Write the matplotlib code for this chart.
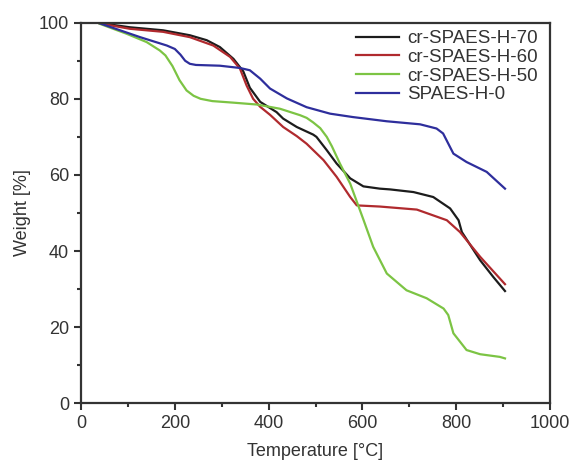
import matplotlib
matplotlib.use("Agg")
import matplotlib.pyplot as plt
from matplotlib.ticker import MultipleLocator

plt.rcParams['font.family'] = ['Liberation Sans', 'DejaVu Sans']

# cr-SPAES-H-70 (black)
t70 = [40, 104, 175, 232, 268, 296, 325, 346, 360, 382, 417, 431, 460, 495, 502, 524, 545, 574, 602, 637, 659, 709, 751, 787, 805, 812, 851, 879, 904]
w70 = [99.9, 98.8, 98.0, 96.7, 95.4, 93.6, 90.5, 87.2, 82.9, 79.2, 76.5, 74.8, 72.6, 70.6, 70.0, 66.5, 63.0, 59.1, 57.0, 56.4, 56.2, 55.5, 54.2, 51.2, 48.1, 45.0, 37.6, 33.2, 29.5]

# cr-SPAES-H-60 (red)
t60 = [40, 104, 175, 232, 282, 318, 339, 353, 367, 382, 403, 431, 460, 481, 517, 545, 574, 588, 637, 716, 780, 808, 851, 904]
w60 = [99.8, 98.4, 97.6, 96.2, 94.0, 91.0, 87.9, 83.5, 80.0, 77.9, 75.8, 72.6, 70.2, 68.2, 63.9, 59.5, 54.2, 52.0, 51.7, 50.9, 48.1, 45.0, 38.5, 31.3]

# cr-SPAES-H-50 (green)
t50 = [40, 97, 140, 168, 180, 195, 210, 225, 240, 255, 280, 324, 375, 424, 467, 481, 495, 510, 524, 535, 552, 574, 588, 602, 623, 652, 694, 737, 773, 783, 794, 822, 851, 893, 904]
w50 = [99.7, 97.1, 94.9, 92.7, 91.4, 88.6, 84.9, 82.2, 80.8, 80.0, 79.4, 79.0, 78.5, 77.4, 75.7, 75.0, 73.8, 72.3, 70.0, 67.5, 63.0, 57.7, 53.0, 48.3, 41.1, 34.1, 29.7, 27.6, 24.9, 23.2, 18.4, 14.0, 12.9, 12.2, 11.8]

# SPAES-H-0 (blue)
t0 = [36, 126, 183, 200, 212, 222, 232, 245, 296, 339, 360, 382, 403, 439, 481, 531, 580, 652, 723, 758, 772, 794, 822, 865, 904]
w0 = [100.0, 96.2, 94.0, 93.1, 91.6, 90.0, 89.2, 88.9, 88.7, 88.1, 87.5, 85.3, 82.7, 80.1, 77.8, 76.1, 75.2, 74.1, 73.3, 72.2, 70.9, 65.6, 63.4, 60.8, 56.4]

labels = ['cr-SPAES-H-70', 'cr-SPAES-H-60', 'cr-SPAES-H-50', 'SPAES-H-0']
colors = ['#1c1c1c', '#b02a2e', '#7cc444', '#2e2e9c']

fig = plt.figure(figsize=(5.73, 4.66), dpi=100)
ax = fig.add_axes([0.1414, 0.1345, 0.8185, 0.8168])

for t, w, lab, c in zip([t70, t60, t50, t0], [w70, w60, w50, w0], labels, colors):
    ax.plot(t, w, color=c, lw=1.6, label=lab, solid_joinstyle='round')

ax.set_xlim(0, 1000)
ax.set_ylim(0, 100)
ax.xaxis.set_major_locator(MultipleLocator(200))
ax.xaxis.set_minor_locator(MultipleLocator(100))
ax.yaxis.set_major_locator(MultipleLocator(20))
ax.yaxis.set_minor_locator(MultipleLocator(10))
tc = '#333333'
ax.tick_params(which='major', direction='out', length=5, width=1.5, colors=tc, labelsize=13, labelcolor=tc)
ax.tick_params(which='minor', direction='out', length=3, width=1.5, colors=tc)
for s in ax.spines.values():
    s.set_linewidth(1.6)
    s.set_color('#333333')

ax.set_xlabel('Temperature [°C]', fontsize=13, color=tc, labelpad=8)
ax.set_ylabel('Weight [%]', fontsize=13, color=tc, labelpad=6)

leg = ax.legend(loc='upper right', bbox_to_anchor=(0.99, 1.0), frameon=False, fontsize=13.5,
                handlelength=2.3, handletextpad=0.43, labelspacing=0.08, borderaxespad=0.0)
for txt in leg.get_texts():
    txt.set_color(tc)

fig.savefig('out.png', dpi=100)
